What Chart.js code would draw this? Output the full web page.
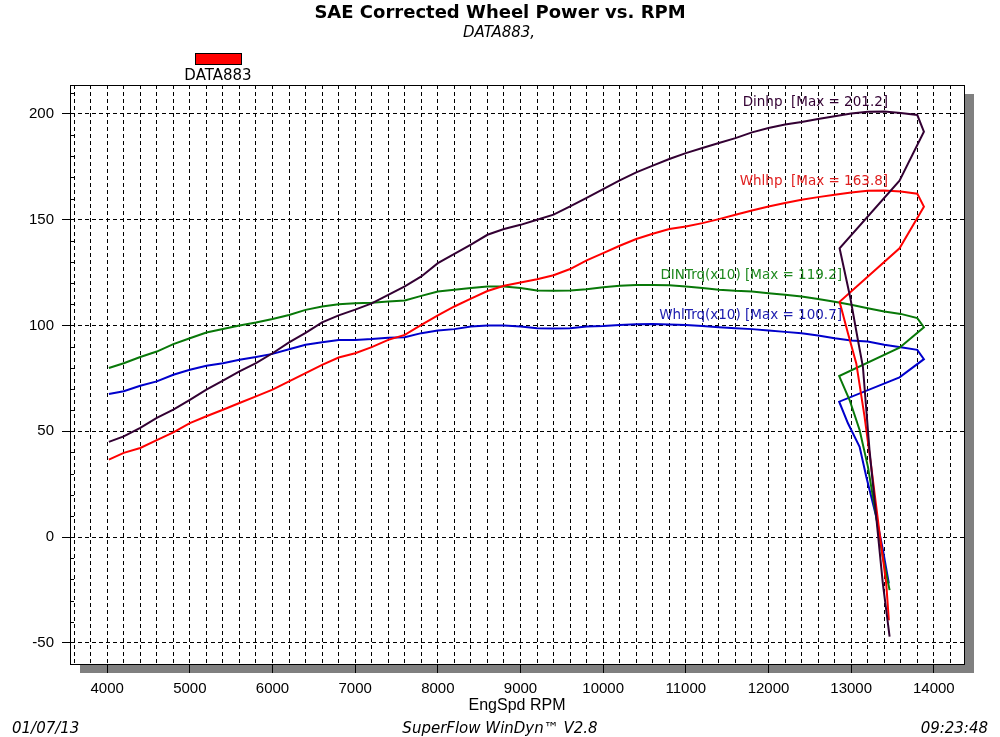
<!doctype html>
<html>
<head>
    <meta charset="UTF-8"/>
    <title>SAE Corrected Wheel Power vs. RPM</title>
    <script src="https://cdn.jsdelivr.net/npm/chart.js@4.4.0/dist/chart.umd.min.js"></script>
</head>
<body style="margin: 0; background: #fff;">
<canvas id="myChart" width="1000" height="737"></canvas>

<script>
    // sweep points (engine speed, rpm) shared by all four traces
    const sweepRpm = [4020, 4200, 4400, 4600, 4800, 5000, 5200, 5400, 5600, 5800,
        6000, 6200, 6400, 6600, 6800, 7000, 7200, 7400, 7600, 7800,
        8000, 8200, 8400, 8600, 8800, 9000, 9200, 9400, 9600, 9800,
        10000, 10200, 10400, 10600, 10800, 11000, 11200, 11400, 11600, 11800,
        12000, 12200, 12400, 12600, 12800, 13000, 13200, 13400, 13600, 13800];

    const dinhp = [45.0, 47.6, 51.6, 56.3, 60.2, 64.9, 69.7, 73.9, 78.3, 82.2,
        86.9, 92.0, 96.5, 101.5, 104.8, 107.5, 110.5, 114.5, 118.5, 123.2,
        129.5, 133.9, 138.2, 142.9, 145.6, 147.6, 150.0, 152.4, 156.3, 160.3,
        164.5, 168.6, 172.4, 175.6, 178.7, 181.5, 183.9, 186.3, 188.6, 191.3,
        193.4, 195.0, 196.2, 197.6, 198.9, 200.2, 201.1, 201.2, 200.5, 199.5];
    const dinhpTailRpm = [13880, 13585, 12860, 12990, 13080, 13142, 13222, 13303, 13383, 13465];
    const dinhpTail = [191.6, 168.5, 136.5, 113.0, 93.5, 80.5, 41.1, 9.6, -21.9, -47.1];

    const whlhp = [36.6, 39.8, 42.1, 45.8, 49.5, 53.9, 57.1, 60.2, 63.4, 66.5,
        69.7, 73.6, 77.5, 81.4, 84.9, 86.9, 89.8, 93.2, 95.6, 100.3,
        104.8, 109.0, 112.7, 116.3, 118.8, 120.3, 121.9, 123.8, 126.7, 130.8,
        134.2, 137.7, 140.9, 143.4, 145.6, 146.8, 148.4, 150.3, 152.4, 154.4,
        156.3, 157.9, 159.5, 160.7, 161.8, 162.9, 163.7, 163.8, 163.4, 162.3];
    const whlhpTailRpm = [13880, 13585, 12860, 12961, 13062, 13162, 13243, 13344, 13424, 13456];
    const whlhpTail = [156.2, 136.5, 111.2, 96.3, 82.1, 56.9, 33.2, 1.7, -21.9, -39.3];

    const dinTrq = [79.9, 82.2, 85.1, 87.7, 91.2, 94.0, 96.7, 98.4, 100.0, 101.4,
        103.1, 105.0, 107.4, 109.0, 110.1, 110.5, 110.8, 111.3, 111.8, 114.0,
        116.1, 116.9, 117.7, 118.5, 118.5, 117.7, 116.6, 116.4, 116.6, 117.2,
        118.1, 118.8, 119.1, 119.2, 119.0, 118.5, 117.7, 116.9, 116.4, 116.1,
        115.3, 114.5, 113.7, 112.5, 111.2, 109.8, 108.2, 106.6, 105.5, 103.5];
    const dinTrqTailRpm = [13880, 13585, 12855, 12981, 13102, 13203, 13303, 13383, 13465];
    const dinTrqTail = [99.2, 89.5, 76.1, 64.8, 50.6, 33.2, 9.6, -9.3, -25.1];

    const whlTrq = [67.6, 68.9, 71.5, 73.6, 76.7, 79.1, 81.0, 82.2, 83.8, 85.1,
        86.6, 88.8, 90.9, 92.1, 93.2, 93.2, 93.6, 94.2, 94.5, 96.4,
        97.6, 98.3, 99.5, 100.0, 100.0, 99.5, 98.7, 98.6, 98.7, 99.5,
        99.8, 100.3, 100.6, 100.7, 100.5, 100.3, 99.8, 99.2, 98.7, 98.3,
        97.6, 97.0, 96.4, 95.3, 94.0, 92.9, 92.4, 90.9, 89.7, 88.5];
    const whlTrqTailRpm = [13880, 13585, 12855, 12961, 13102, 13183, 13303, 13383, 13456];
    const whlTrqTail = [84.1, 75.5, 64.0, 53.8, 42.7, 28.5, 9.6, -5.9, -21.9];

    const xLabels = [4000, 5000, 6000, 7000, 8000, 9000, 10000, 11000, 12000, 13000, 14000];
    const yLabels = [-50, 0, 50, 100, 150, 200];

    const runName = 'DATA883';
    const seriesNames = ['Dinhp  [Max = 201.2]', 'Whlhp  [Max = 163.8]', 'DINTrq(x10) [Max = 119.2]', 'WhlTrq(x10) [Max = 100.7]'];
    // where each trace name sits (right end, in rpm / value units)
    const nameAnchors = [[13446, 205.2], [13446, 168.2], [12889, 123.8], [12889, 104.6]];

    const lineColors = ['#330033', '#ff0000', '#087808', '#0000cc'];
    const textColors = ['#330033', '#e02020', '#208a20', '#2020b0'];

    function pts(rpm, tailRpm, vals, tailVals) {
        const xs = rpm.concat(tailRpm), ys = vals.concat(tailVals);
        return xs.map((x, i) => ({x: x, y: ys[i]}));
    }

    const FONT = '"Liberation Sans", Arial, sans-serif';
    const WIDE = '"DejaVu Sans", sans-serif';

    const extras = {
        id: 'extras',
        beforeDraw(chart) {
            const {ctx, chartArea: a} = chart;
            ctx.save();
            ctx.fillStyle = '#808080';
            ctx.fillRect(a.left + 10, a.top + 9, a.right - a.left, a.bottom - a.top);
            ctx.fillStyle = '#ffffff';
            ctx.fillRect(a.left, a.top, a.right - a.left, a.bottom - a.top);
            ctx.restore();
        },
        beforeDatasetsDraw(chart) {
            const {ctx, chartArea: a, scales: {y}} = chart;
            ctx.save();
            ctx.strokeStyle = '#000';
            ctx.lineWidth = 1;
            ctx.strokeRect(a.left + 0.5, a.top + 0.5, a.right - a.left, a.bottom - a.top);
            // minor ticks inside the left edge, every 10 units
            ctx.beginPath();
            for (let v = -50; v <= 210; v += 10) {
                if (v % 50 === 0) continue;
                const py = Math.round(y.getPixelForValue(v)) + 0.5;
                ctx.moveTo(a.left + 1, py);
                ctx.lineTo(a.left + 4, py);
            }
            ctx.stroke();
            ctx.restore();
        },
        afterDraw(chart) {
            const {ctx, scales: {x, y}} = chart;
            ctx.save();
            ctx.textAlign = 'center';
            ctx.textBaseline = 'middle';
            ctx.fillStyle = '#000';
            ctx.font = 'bold 18px ' + WIDE;
            ctx.fillText('SAE Corrected Wheel Power vs. RPM', 500, 13);
            ctx.font = 'oblique 15px ' + WIDE;
            ctx.fillText(runName + ',', 499, 33);

            // legend
            ctx.fillStyle = '#ff0000';
            ctx.fillRect(196, 54, 45, 10);
            ctx.strokeStyle = '#000';
            ctx.strokeRect(195.5, 53.5, 46, 11);
            ctx.fillStyle = '#000';
            ctx.font = '15px ' + WIDE;
            ctx.fillText(runName, 218, 76);

            // footer
            ctx.font = 'oblique 15px ' + WIDE;
            ctx.textAlign = 'left';
            ctx.fillText('01/07/13', 12, 729);
            ctx.textAlign = 'center';
            ctx.fillText('SuperFlow WinDyn\u2122 V2.8', 500, 729);
            ctx.textAlign = 'right';
            ctx.fillText('09:23:48', 988, 729);

            // trace names
            ctx.font = '13.5px ' + WIDE;
            seriesNames.forEach((name, i) => {
                ctx.fillStyle = textColors[i];
                ctx.fillText(name, x.getPixelForValue(nameAnchors[i][0]), y.getPixelForValue(nameAnchors[i][1]));
            });
            ctx.restore();
        }
    };

    const ctx = document.getElementById('myChart').getContext('2d');
    const myChart = new Chart(ctx, {
        type: 'scatter',
        data: {
            datasets: [
                {label: 'Dinhp', data: pts(sweepRpm, dinhpTailRpm, dinhp, dinhpTail)},
                {label: 'Whlhp', data: pts(sweepRpm, whlhpTailRpm, whlhp, whlhpTail)},
                {label: 'DINTrq(x10)', data: pts(sweepRpm, dinTrqTailRpm, dinTrq, dinTrqTail)},
                {label: 'WhlTrq(x10)', data: pts(sweepRpm, whlTrqTailRpm, whlTrq, whlTrqTail)}
            ].map((d, i) => Object.assign(d, {
                showLine: true,
                borderColor: lineColors[i],
                backgroundColor: lineColors[i],
                borderWidth: 2,
                pointRadius: 0,
                tension: 0
            }))
        },
        options: {
            responsive: false,
            animation: false,
            layout: {padding: {left: 0, right: 36, top: 85, bottom: 0}},
            plugins: {
                legend: {display: false},
                title: {display: false},
                tooltip: {enabled: false}
            },
            scales: {
                x: {
                    type: 'linear',
                    min: 3550,
                    max: 14365,
                    afterFit: s => { s.height = 73; },
                    afterBuildTicks: s => {
                        const t = [];
                        for (let v = 3600; v <= 14200; v += 200) t.push({value: v});
                        s.ticks = t;
                    },
                    ticks: {
                        autoSkip: false,
                        maxRotation: 0,
                        padding: 7,
                        color: '#000',
                        font: {family: FONT, size: 15},
                        callback: v => xLabels.includes(v) ? String(v) : ''
                    },
                    grid: {
                        color: '#000',
                        lineWidth: 1,
                        tickLength: 9,
                        tickColor: c => xLabels.includes(c.tick.value) ? '#000' : 'rgba(0,0,0,0)'
                    },
                    border: {display: true, color: '#000', dash: [4, 3]},
                    title: {
                        display: true,
                        text: 'EngSpd RPM',
                        color: '#000',
                        font: {family: FONT, size: 16},
                        padding: {top: 0, bottom: 22}
                    }
                },
                y: {
                    type: 'linear',
                    min: -60,
                    max: 213.7,
                    afterFit: s => { s.width = 70; },
                    afterBuildTicks: s => { s.ticks = yLabels.map(v => ({value: v})); },
                    ticks: {
                        padding: 8,
                        color: '#000',
                        font: {family: FONT, size: 15}
                    },
                    grid: {color: '#000', lineWidth: 1, tickLength: 8},
                    border: {display: true, color: '#000', dash: [4, 3]}
                }
            }
        },
        plugins: [extras]
    });
</script>
</body>
</html>
